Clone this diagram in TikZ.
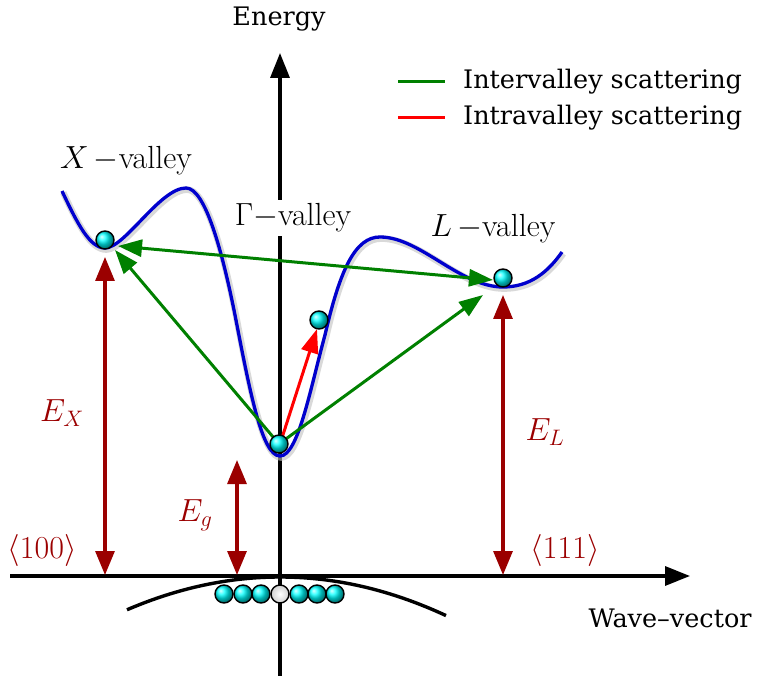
\RequirePackage{fix-cm}
\documentclass[tikz,border=0pt]{standalone}
\usepackage{fontspec}
\newfontfamily\dvs{DejaVu Serif}
\usetikzlibrary{arrows.meta}
\definecolor{dred}{RGB}{155,0,0}
\definecolor{dgreen}{RGB}{0,128,0}
\definecolor{cblue}{RGB}{0,0,205}
\tikzset{
  axis/.style={line width=3.4pt, -{Triangle[length=25pt,width=19pt]}},
  curveA/.style={draw=black!25, line width=6.5pt, shift={(1.2,1.6)}, opacity=0.6},
  curveB/.style={draw=cblue, line width=3.3pt},
  ball/.style={circle, draw=black, line width=1.4pt, minimum size=18pt, inner sep=0pt, shading=ball, ball color=cyan},
  wball/.style={circle, draw=black, line width=1.4pt, minimum size=18pt, inner sep=0pt, shading=radial, inner color=white, outer color=black!18},
  garrow/.style={draw=dgreen, line width=3pt, -{Triangle[length=24pt,width=17pt]}},
  gdarrow/.style={draw=dgreen, line width=3pt, {Triangle[length=24pt,width=17pt]}-{Triangle[length=24pt,width=17pt]}},
  rarrow/.style={draw=red, line width=3pt, -{Triangle[length=24pt,width=17pt]}},
  earrow/.style={draw=dred, line width=3.2pt, {Triangle[length=24pt,width=19pt]}-{Triangle[length=24pt,width=19pt]}},
  dvlabel/.style={font=\dvs\fontsize{25.5}{30}\selectfont, inner sep=0pt},
  lmlabel/.style={font=\fontsize{32}{36}\selectfont, inner sep=0pt},
  elabel/.style={font=\fontsize{32}{36}\selectfont, text=dred, inner sep=0pt},
}
\begin{document}
\begin{tikzpicture}[x=1pt,y=-1pt]
\useasboundingbox (0,0) rectangle (758,676);
% axes
\coordinate (yb) at (280,676);
\coordinate (yt) at (280,53);
\coordinate (xl) at (10,576);
\coordinate (xr) at (690,576);
\draw[axis] (yb) -- (yt);
\draw[axis] (xl) -- (xr);
\node[dvlabel] (energy) at (279,19) {Energy};
\node[dvlabel] (wave) at (670,618) {Wave–vector};
% valence band
\draw[line width=3.4pt] plot[domain=-153:166,samples=80] ({280+\x},{577+14*(\x/100)*(\x/100)});
% conduction band
\foreach \st in {curveA,curveB}
  \draw[\st] (62,191) .. controls (78,225) and (90,248) .. (105,248)
    .. controls (125,248) and (160,188) .. (186,188)
    .. controls (205,188) and (222,250) .. (235,315)
    .. controls (250,392) and (262,456) .. (280,456)
    .. controls (298,456) and (310,390) .. (325,335)
    .. controls (340,270) and (355,237) .. (380,237)
    .. controls (420,237) and (460,287) .. (503,287)
    .. controls (530,287) and (548,272) .. (562,252);
% labels
\node[lmlabel, fill=white, inner sep=4pt] (lG) at (293,218) {$\Gamma{-}$valley};
\node[lmlabel] (lX) at (126,161) {$X\,{-}$valley};
\node[lmlabel] (lL) at (493,229) {$L\,{-}$valley};
% energy arrows
\coordinate (eXt) at (105,257);
\coordinate (eXb) at (105,575);
\coordinate (egt) at (237,460);
\coordinate (egb) at (237,575);
\coordinate (eLt) at (503,295);
\coordinate (eLb) at (503,575);
\draw[earrow] (eXt) -- (eXb);
\draw[earrow] (egt) -- (egb);
\draw[earrow] (eLt) -- (eLb);
\node[elabel] (EX) at (62,413) {$E_X$};
\node[elabel] (Eg) at (195,515) {$E_g$};
\node[elabel] (EL) at (545,432) {$E_L$};
\node[elabel] (k100) at (42,550) {$\langle 100\rangle$};
\node[elabel] (k111) at (565,550) {$\langle 111\rangle$};
% scattering arrows
\coordinate (g) at (279,444);
\coordinate (gr) at (281,441);
\coordinate (tX) at (115,250);
\coordinate (tL) at (483,295);
\coordinate (xa) at (118,246);
\coordinate (la) at (493,280);
\coordinate (tr) at (317,329);
\draw[garrow] (g) -- (tX);
\draw[garrow] (g) -- (tL);
\draw[gdarrow] (xa) -- (la);
\draw[rarrow] (gr) -- (tr);
% balls
\node[ball] (bX) at (105,240) {};
\node[ball] (bL) at (503,278) {};
\node[ball] (bE) at (319,320) {};
\node[ball] (bG) at (g) {};
\foreach \i/\xx in {1/224,2/243,3/261,5/299,6/317,7/335}
  \node[ball] (v\i) at (\xx,594) {};
\node[wball] (v4) at (280,594) {};
% legend
\coordinate (lg1) at (398,82);
\coordinate (lg2) at (445,82);
\coordinate (lr1) at (398,118);
\coordinate (lr2) at (445,118);
\draw[dgreen, line width=3pt] (lg1) -- (lg2);
\draw[red, line width=3pt] (lr1) -- (lr2);
\node[dvlabel, anchor=west] (leg1) at (463,82) {Intervalley scattering};
\node[dvlabel, anchor=west] (leg2) at (463,118) {Intravalley scattering};
\end{tikzpicture}
\end{document}
